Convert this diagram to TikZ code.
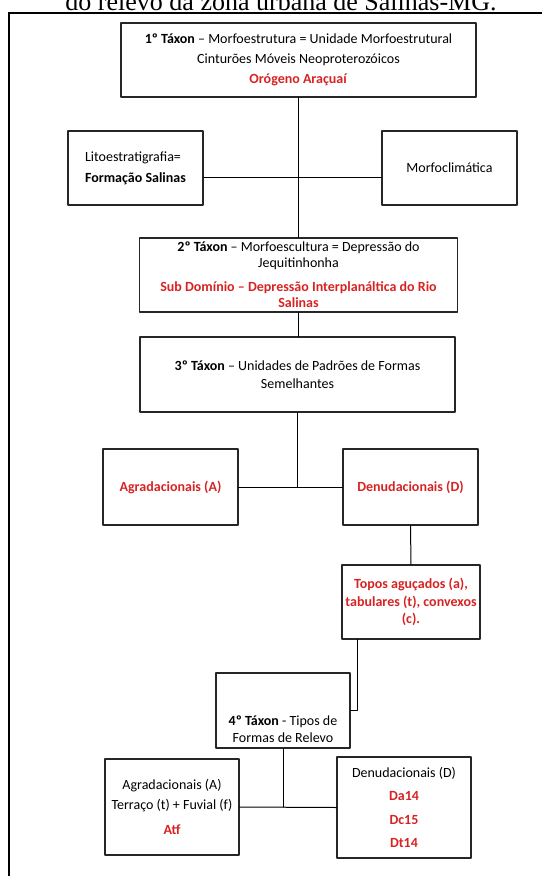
\documentclass[tikz,border=0pt]{standalone}
\usepackage{fontspec}
\setmainfont{Carlito}
\newfontfamily\titlefont{Liberation Serif}
\definecolor{redtxt}{RGB}{215,35,35}
\newcommand{\redbf}[1]{\textcolor{redtxt}{\textbf{#1}}}
\begin{document}
\begin{tikzpicture}[x=1pt, y=-1pt, line cap=round, line join=round, font=\fontsize{14}{17}\selectfont]
	\tikzset{box style/.style={draw=black!85, line width=1.1pt, inner sep=0pt, align=center},
		link style/.style={line width=1pt}}
	\useasboundingbox (0,0) rectangle (542,876);
	\node[anchor=base, font=\titlefont\fontsize{26}{30}\selectfont] (title) at (281,10.5) {do relevo da zona urbana de Salinas-MG.};
	\draw[line width=2.6pt, line cap=butt, line join=miter] (9,876) -- (9,13) -- (542,13);
	% taxons
	\node[box style, minimum width=355pt, minimum height=74pt] (tax1) at (298.5,60) {\textbf{1º Táxon} – Morfoestrutura = Unidade Morfoestrutural\\[3pt] Cinturões Móveis Neoproterozóicos\\[3pt] \redbf{Orógeno Araçuaí}};
	\node[box style, minimum width=135pt, minimum height=74pt, align=left] (lito) at (135.5,168) {Litoestratigrafia=\\[4pt] \textbf{Formação Salinas}};
	\node[box style, minimum width=135pt, minimum height=74pt] (morfo) at (449.5,168) {Morfoclimática};
	\node[box style, minimum width=318pt, minimum height=74pt, font=\fontsize{14}{16}\selectfont] (tax2) at (298.5,275) {\textbf{2º Táxon} – Morfoescultura = Depressão do\\ Jequitinhonha\\[8pt] \redbf{Sub Domínio – Depressão Interplanáltica do Rio}\\ \redbf{Salinas}};
	\node[box style, minimum width=315pt, minimum height=75pt, font=\fontsize{14}{18}\selectfont] (tax3) at (297.5,374.5) {\textbf{3º Táxon} – Unidades de Padrões de Formas\\ Semelhantes};
	\node[box style, minimum width=135pt, minimum height=76pt] (agrad) at (170.5,487) {\redbf{Agradacionais (A)}};
	\node[box style, minimum width=135pt, minimum height=76pt] (denud) at (410.5,487) {\redbf{Denudacionais (D)}};
	\node[box style, minimum width=138pt, minimum height=74pt, font=\fontsize{14}{17.5}\selectfont] (topos) at (411,602) {\redbf{Topos aguçados (a),}\\ \redbf{tabulares (t), convexos}\\ \redbf{(c).}};
	\node[box style, minimum width=134pt, minimum height=75pt] (tax4) at (283,710.5) {};
	\node[align=center] (tax4 text) at (283,729) {\textbf{4º Táxon} - Tipos de\\ Formas de Relevo};
	\node[box style, minimum width=134pt, minimum height=96pt] (agrad2) at (172,807) {Agradacionais (A)\\[3pt] Terraço (t) + Fuvial (f)\\[8pt] \redbf{Atf}};
	\node[box style, minimum width=134pt, minimum height=101pt] (denud2) at (404,807.5) {Denudacionais (D)\\[6.5pt] \redbf{Da14}\\[6.5pt] \redbf{Dc15}\\[6.5pt] \redbf{Dt14}};
	% links
	\coordinate (hub1) at (298.5,177);
	\draw[link style] (tax1.south) -- (tax2.north);
	\draw[link style] (lito.east |- hub1) -- (morfo.west |- hub1);
	\draw[link style] (tax2.south) -- (tax2.south |- tax3.north);
	\draw[link style] (tax3.south) -- (tax3.south |- agrad.east);
	\draw[link style] (agrad.east) -- (denud.west);
	\draw[link style] (denud.south) -- (topos.north);
	\draw[link style] ([xshift=-54pt]topos.south) |- (tax4.east);
	\draw[link style] (tax4.south) -- (tax4.south |- agrad2.east);
	\draw[link style] (agrad2.east) -- (denud2.west);
\end{tikzpicture}
\end{document}
